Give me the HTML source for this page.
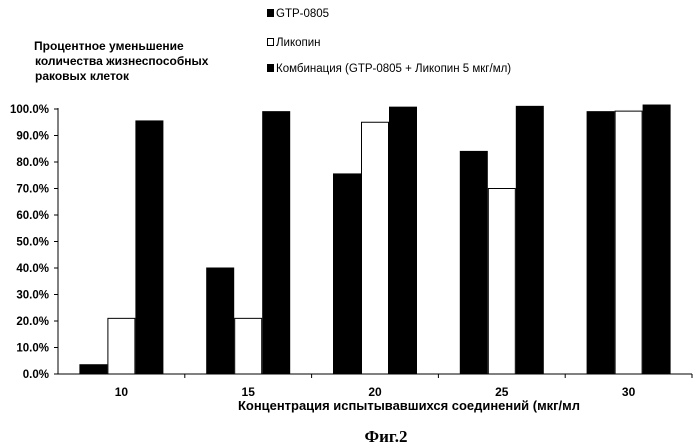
<!DOCTYPE html>
<html><head><meta charset="utf-8"><style>
body{margin:0;background:#fff;width:698px;height:448px;overflow:hidden}
svg{display:block;font-family:"Liberation Sans",Arial,sans-serif}
</style></head><body>
<svg width="698" height="448">
<g font-size="12" font-weight="bold">
<text x="34" y="50">Процентное уменьшение</text>
<text x="35" y="65">количества жизнеспособных</text>
<text x="35" y="80">раковых клеток</text>
</g>
<g font-size="11.5">
<g><rect x="267" y="9" width="7" height="8" fill="#000"/><text x="276" y="17">GTP-0805</text></g>
<g><rect x="267.5" y="38.5" width="6" height="7" fill="#fff" stroke="#000"/><text x="276" y="46">Ликопин</text></g>
<g><rect x="267" y="64" width="7" height="8" fill="#000"/><text x="276" y="72">Комбинация (GTP-0805 + Ликопин 5 мкг/мл)</text></g>
</g>
<g id="axes"></g>
<g id="bars"></g>
<text x="238" y="410" font-size="13" font-weight="bold" textLength="342" lengthAdjust="spacingAndGlyphs">Концентрация испытывавшихся соединений (мкг/мл</text>
<text x="386" y="442" text-anchor="middle" font-family="Liberation Serif,serif" font-size="17" font-weight="bold">Фиг.2</text>
</svg>
<script>
const categories=["10","15","20","25","30"];
const gtp=[3.5,40,75.5,84,99];
const lycopene=[21,21,95,70,99.2];
const combination=[95.5,99,100.7,101,101.5];
const yTicks=[0,10,20,30,40,50,60,70,80,90,100];
const NS="http://www.w3.org/2000/svg";
const x0=58,x1=692,y0=374,yTop=109;
const y=v=>y0-(v/100)*(y0-yTop);
const bw=(x1-x0)/categories.length;
const bars=document.getElementById('bars'),axes=document.getElementById('axes');
function mk(tag,at,parent){const e=document.createElementNS(NS,tag);for(const k in at)e.setAttribute(k,at[k]);parent.appendChild(e);return e;}
let ax=mk('line',{x1:x0,y1:yTop-1,x2:x0,y2:y0,stroke:'#000','stroke-width':1},axes);


let xa=mk('line',{x1:x0,y1:y0,x2:x1,y2:y0,stroke:'#000','stroke-width':1},axes);


yTicks.forEach(t=>{
 const ty=y(t);
 mk('line',{x1:x0-4,y1:ty,x2:x0,y2:ty,stroke:'#000'},axes);
 const tx=mk('text',{x:x0-9,y:ty+4,'text-anchor':'end','font-size':11.5,'font-weight':'bold'},axes);
 tx.textContent=t.toFixed(1)+'%';
 
 
});
const series=[[gtp,'#000','gtp'],[lycopene,'#fff','lycopene'],[combination,'#000','combination']];
categories.forEach((c,i)=>{
 const cx=x0+bw*(i+0.5);
 mk('line',{x1:x0+bw*(i+1),y1:y0,x2:x0+bw*(i+1),y2:y0+4,stroke:'#000'},axes);
 const lt=mk('text',{x:cx,y:y0+22,'text-anchor':'middle','font-size':12,'font-weight':'bold'},axes);
 lt.textContent=c;
 
 
 const w=28,start=cx-w*1.5;
 series.forEach(([arr,fill,nm],j)=>{
  const v=arr[i];
  const r=mk('rect',{x:start+j*w+0.5,y:y(v),width:w-1,height:y0-y(v),fill:fill,stroke:'#000','stroke-width':1},bars);
  
  
 });
});
</script>
</body></html>
